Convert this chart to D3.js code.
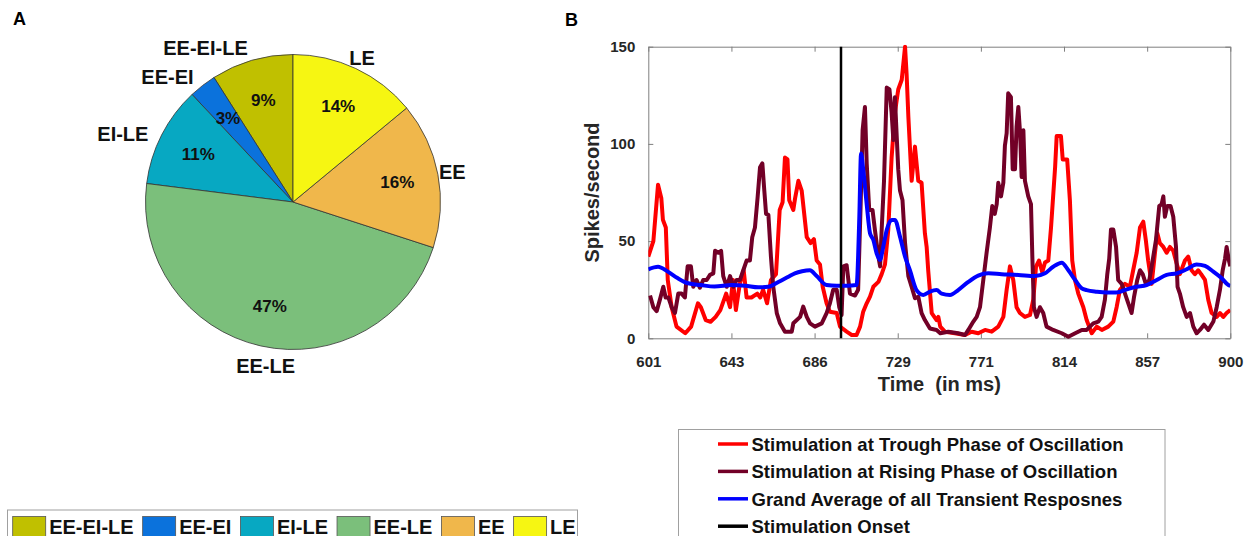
<!DOCTYPE html>
<html>
<head>
<meta charset="utf-8">
<script src="https://cdn.jsdelivr.net/npm/d3@7"></script>
<style>
  body { margin: 0; background: #fff; }
  svg text { font-family: "Liberation Sans", Arial, Helvetica, sans-serif; font-weight: bold; }
</style>
</head>
<body>
<div id="chart"></div>
<script>
// ---- panel A : response types ----
const pieLabels = ['EE-EI-LE', 'EE-EI', 'EI-LE', 'EE-LE', 'EE', 'LE'];
const pieValues = [9, 3, 11, 47, 16, 14];
const pieColors = ['#c0c000', '#0b72dc', '#07a8c2', '#7bbf7b', '#f0b74b', '#f6f612'];

// ---- panel B : firing rates, [time (ms), spikes/s] ----
const troughPhase = [[601,42],[603.6,50],[606,79],[607.7,72],[608.5,61],[610,57],[611,30],[613,16],[615.5,6],[620,2.6],[623,6],[626.5,18],[628,16],[630.5,9.4],[633,8.5],[635.6,11],[638,14.5],[641,23],[643,16],[644.5,30],[646,14.5],[648,28],[650,35],[651.5,21],[654,21],[657,23],[658.5,21],[660,25],[662,18],[664,30],[666.6,33],[668.5,66],[670,70],[671.2,93],[672.5,92],[673.4,71],[675.5,66],[676.4,72],[678.1,81],[679.8,76],[682.4,52],[684.4,49],[686.1,51],[687.5,40],[689.2,38],[690.6,26.5],[692.6,18],[694.3,13.7],[697.8,13],[699.5,6],[702.9,3.4],[705.5,1.7],[708,1.7],[709.8,6],[711.4,13.7],[713.2,18],[714.9,21.4],[716.6,26.5],[719.2,29],[720.9,33],[722.6,38],[724.3,56],[726,93],[727.7,116],[729.4,128],[731.2,133],[732.9,150],[733.7,136],[734.6,114],[736.3,81],[738,98.6],[739.7,81],[741.4,80],[743.1,54],[744,47],[744.8,35],[746.6,13],[749.1,9.4],[750,11],[751,6],[753.4,3.4],[758.5,2.6],[763.7,1.7],[767.1,3.4],[770.5,2.6],[774,4.3],[777.4,3.4],[780.8,6],[783.4,11],[785.1,25],[786.8,37],[788.5,30],[790.2,16],[791.9,13],[794.5,11],[797.1,12],[798.8,20],[800.2,37],[801.7,40],[803.4,34],[804.8,39],[806.5,40],[807.9,57],[810,88],[810.8,104],[813,104],[813.9,92],[816.2,92],[817.6,71],[818.8,40],[820.2,30],[821.9,23],[824.5,16],[826.2,9.4],[828.8,2.6],[831.4,6],[834,4.3],[837.3,6],[839.9,8.6],[841.6,16],[843.3,25],[845.9,28],[848.4,26.5],[850.1,35],[851.9,44],[853.6,57],[855.3,60],[856.6,50.5],[857.8,40],[859.6,28],[861.3,44],[862.5,54],[863.8,49],[865.6,47],[867.3,44],[869,47],[870.7,45],[872.4,38.6],[874.1,33],[876.7,40],[878.4,42],[880.1,35],[881.8,33],[883.5,35],[885,33],[887,30],[888.7,19.7],[890.4,13],[893,11],[894.7,13],[896.4,11],[898.1,13],[900,14.6]];

const risingPhase = [[601.9,22],[603.6,16],[605.3,14],[607,20],[608.7,26.5],[609.9,21],[611.3,21],[613,16],[614.7,13],[616.4,23],[618.1,23],[619.8,21],[621.2,37],[622.9,37],[624.1,26.5],[625.8,30],[627.5,26],[629.2,30],[631,30],[632.7,32.6],[634.4,33.4],[635.3,45],[637,44],[638.4,45],[639.5,32],[641.3,26.5],[643,32],[644.7,26.5],[646.4,30],[648.1,30],[649.8,35],[651.5,40],[653.2,40],[654.4,52],[655.8,57],[657.2,73],[658.4,88],[659.6,90],[660.6,76],[661.5,64],[662.7,63.5],[664,42],[665.2,26.5],[667,13],[668.7,7.7],[671.2,3.4],[674.7,3.4],[675.5,7.7],[679,11],[680.6,16.3],[682.4,11],[684.1,7.7],[686.6,6],[690.1,7.7],[692.6,13],[694.3,18],[696,25],[697.8,25],[699.1,16],[700.3,12],[701.2,37],[702.9,37.6],[704.6,23],[707.2,22],[708.8,25],[710.1,69],[711.1,107],[712.3,119],[713.2,90],[714.5,66],[716.2,66],[717.4,56],[719.2,42],[720.1,37],[720.9,56],[722.1,81],[723.5,129],[724.9,128],[726,116],[726.9,102],[727.7,124],[729.4,87],[730.3,76],[731.6,71],[732.9,49],[734.6,32],[736.3,26.5],[738,20.6],[739.7,21.4],[741.4,13],[743.1,9.4],[745.7,5],[749.1,4.3],[751,2.6],[755.1,3.4],[760.2,2.6],[763.7,1.7],[765.4,4.3],[768,8.6],[769.7,11],[771.4,16],[773.1,30],[774.8,44],[776.5,57],[777.7,68],[779,64],[780,69],[780.8,80],[782.2,73],[783.4,80],[784.2,99],[785.1,105.5],[785.9,126],[787.3,124],[788.2,87],[789.4,87],[790.2,109],[791.1,119],[792,105.5],[792.8,83],[793.7,107],[794.5,81],[796.2,73],[797.6,69],[798.3,42],[799.1,16],[800.5,11],[802.2,16],[803.9,13],[805.6,6],[809,4.3],[813.4,2.6],[816.8,0.8],[820.3,2.6],[823.7,4.3],[826.2,4.3],[829.6,7.7],[832.2,8.6],[833.9,11],[835.6,20],[836.8,33],[837.8,41],[838.7,56],[839.9,56],[841.3,47],[842.4,30],[844.2,28],[845.9,23],[847.6,18],[849.3,13],[850.5,21],[852.2,30],[853.6,35],[855,33],[856.6,28],[858.4,30],[860.1,40],[861.8,50.5],[863.5,68],[864.7,69],[865.6,73],[866.4,62.5],[867.6,68],[869.3,68],[870.7,62.5],[872.1,47],[872.9,26.5],[874.1,23],[875.8,16],[877.6,11],[879.3,13],[881,6],[882.7,2.6],[884.4,4.3],[886.5,7],[888.7,4.3],[891.3,8.6],[893,16],[894.7,25],[896.1,35],[897.3,41],[898.1,47],[899.3,40],[900,37]];

const grandAverage = [[601,35.5],[606,36.8],[611,34.3],[616,31],[621.5,28.3],[628,27.4],[635,26.6],[644,27.4],[651,27],[657.5,26.2],[662.7,26.5],[667.8,29],[673,31.7],[676.3,33.4],[680,34.5],[684,35],[687.5,32],[692.6,27.4],[697.8,27],[703,27],[708,27.4],[709.4,62],[710.3,95],[711.4,87],[713.2,69],[714.9,54],[716.6,50.6],[718.3,43.7],[720,40.3],[721.7,47],[723.5,55.7],[726,60.9],[727.7,60.9],[730.3,52.3],[732.9,42],[735.4,35],[738.8,24.8],[742.3,22.3],[745.7,24],[749.1,24.8],[751.7,23],[756,22.3],[760.2,24.8],[765.4,29],[770.5,32.2],[775.6,33.4],[782.5,33],[791.1,32.6],[799.7,32],[804.8,33.4],[809,36.8],[813.4,38.9],[816.8,35],[820.3,30],[823.7,25.7],[826.2,24.8],[831.4,24],[836.5,23.6],[841.6,23.6],[846.8,25.2],[851.9,26.5],[857,27.4],[862.2,30],[867.3,32.6],[872.4,33.4],[877.6,35.5],[882.7,38],[887,37.2],[891.3,34.3],[895.6,30.9],[899,27.4],[900,27]];

const stimOnset = 700;
const xTickValues = [601, 643.71, 686.43, 729.14, 771.86, 814.57, 857.29, 900];
const yTickValues = [0, 50, 100, 150];

const seriesNames = ['Stimulation at Trough Phase of Oscillation',
                     'Stimulation at Rising Phase of Oscillation',
                     'Grand Average of all Transient Resposnes',
                     'Stimulation Onset'];
const seriesColors = ['#ff0000', '#720027', '#0000ff', '#000000'];

const W = 1247, H = 536;
const svg = d3.select('#chart').append('svg')
    .attr('width', W)
    .attr('height', H);

svg.append('rect').attr('width', W).attr('height', H).attr('fill', '#fff');

// panel letters
svg.append('text').attr('x', 13).attr('y', 25).attr('font-size', 18).text('A');
svg.append('text').attr('x', 565).attr('y', 26).attr('font-size', 18).text('B');

// ===== Pie =====
const pieCfg = {cx: 293, cy: 202, r: 147.5};
const pieG = svg.append('g').attr('transform', `translate(${pieCfg.cx},${pieCfg.cy})`);

// counter-clockwise from 12 o'clock, like MATLAB
const pie = d3.pie().sort(null).startAngle(0).endAngle(-2 * Math.PI);
const arcs = pie(pieValues);
const arc = d3.arc().innerRadius(0).outerRadius(pieCfg.r);

pieG.selectAll('path.slice')
  .data(arcs)
  .enter().append('path')
    .attr('class', 'slice')
    .attr('d', arc)
    .attr('fill', (d, i) => pieColors[i])
    .attr('stroke', '#333')
    .attr('stroke-width', 0.8);

// percentage text inside
const inArc = d3.arc().innerRadius(pieCfg.r * 0.72).outerRadius(pieCfg.r * 0.72);
pieG.selectAll('text.pct')
  .data(arcs)
  .enter().append('text')
    .attr('class', 'pct')
    .attr('x', d => inArc.centroid(d)[0])
    .attr('y', d => inArc.centroid(d)[1] + 6)
    .attr('text-anchor', 'middle')
    .attr('font-size', 17)
    .attr('fill', '#111')
    .text(d => d.data + '%');

// outside labels
const outR = pieCfg.r * 1.1;
pieG.selectAll('text.lbl')
  .data(arcs)
  .enter().append('text')
    .attr('class', 'lbl')
    .each(function(d, i) {
      const a = (d.startAngle + d.endAngle) / 2;
      const sx = Math.sin(a), cy = Math.cos(a);
      const x = outR * sx, y = -outR * cy;
      let anchor = 'middle';
      let dy = y > 0 ? 13 : 7;
      if (x < -0.25 * outR) anchor = 'end';
      if (cy > 0.3) dy += 6 * Math.abs(sx);
      d3.select(this)
        .attr('x', x + (y > 0 && anchor === 'middle' ? 8 : 0))
        .attr('y', y + dy)
        .attr('text-anchor', anchor);
    })
    .attr('font-size', 20)
    .attr('fill', '#111')
    .text((d, i) => pieLabels[i]);

// pie legend
const pl = svg.append('g').attr('class', 'pie-legend');
pl.append('rect')
    .attr('x', 7.5).attr('y', 510)
    .attr('width', 570).attr('height', 40)
    .attr('fill', '#fff').attr('stroke', '#a0a0a0').attr('stroke-width', 1);
let lx = 12.7;
pieLabels.forEach((lab, i) => {
  pl.append('rect')
      .attr('x', lx).attr('y', 516.5)
      .attr('width', 33).attr('height', 22)
      .attr('fill', pieColors[i])
      .attr('stroke', '#555').attr('stroke-width', 0.8);
  const t = pl.append('text')
      .attr('x', lx + 36.5).attr('y', 533.5)
      .attr('font-size', 20)
      .attr('fill', '#111')
      .text(lab);
  lx += 36.5 + t.node().getComputedTextLength() + 9;
});

// ===== Line chart =====
const box = {left: 648.3, right: 1230.3, top: 46.7, bottom: 338.3};
const x = d3.scaleLinear().domain([601, 900]).range([box.left, box.right]);
const y = d3.scaleLinear().domain([0, 150]).range([box.bottom, box.top]);

const plot = svg.append('g');
const axisColor = '#7f7f7f';

function styleAxis(g) {
  g.select('.domain').attr('stroke', axisColor).attr('stroke-width', 1);
  g.selectAll('.tick line').attr('stroke', axisColor);
  g.selectAll('.tick text')
      .attr('font-size', 15)
      .attr('font-family', '"Liberation Sans", Arial, sans-serif')
      .attr('font-weight', 'bold')
      .attr('fill', '#262626');
}

plot.append('g')
    .attr('transform', `translate(0,${box.bottom})`)
    .call(d3.axisBottom(x).tickValues(xTickValues).tickSize(-5).tickPadding(18)
      .tickFormat(d => Math.floor(d)).tickSizeOuter(0))
    .call(styleAxis);
plot.append('g')
    .attr('transform', `translate(0,${box.top})`)
    .call(d3.axisTop(x).tickValues(xTickValues).tickSize(-5).tickFormat('').tickSizeOuter(0))
    .call(styleAxis);
plot.append('g')
    .attr('transform', `translate(${box.left},0)`)
    .call(d3.axisLeft(y).tickValues(yTickValues).tickSize(-5).tickPadding(13).tickSizeOuter(0))
    .call(styleAxis);
plot.append('g')
    .attr('transform', `translate(${box.right},0)`)
    .call(d3.axisRight(y).tickValues(yTickValues).tickSize(-5).tickFormat('').tickSizeOuter(0))
    .call(styleAxis);

svg.append('defs').append('clipPath').attr('id', 'plotclip')
  .append('rect')
    .attr('x', box.left).attr('y', box.top - 2)
    .attr('width', box.right - box.left).attr('height', box.bottom - box.top + 4);

const line = d3.line().x(d => x(d[0])).y(d => y(d[1]));
const smooth = d3.line().x(d => x(d[0])).y(d => y(d[1])).curve(d3.curveMonotoneX);

const lines = plot.append('g').attr('clip-path', 'url(#plotclip)');
lines.append('path').datum(troughPhase)
    .attr('d', line).attr('fill', 'none')
    .attr('stroke', seriesColors[0]).attr('stroke-width', 4).attr('stroke-linejoin', 'round');
lines.append('path').datum(risingPhase)
    .attr('d', line).attr('fill', 'none')
    .attr('stroke', seriesColors[1]).attr('stroke-width', 4).attr('stroke-linejoin', 'round');
lines.append('path').datum(grandAverage)
    .attr('d', smooth).attr('fill', 'none')
    .attr('stroke', seriesColors[2]).attr('stroke-width', 4).attr('stroke-linejoin', 'round');
lines.append('line')
    .attr('x1', x(stimOnset)).attr('x2', x(stimOnset))
    .attr('y1', y(150)).attr('y2', y(0))
    .attr('stroke', seriesColors[3]).attr('stroke-width', 2.5);

// axis titles
svg.append('text')
    .attr('x', (box.left + box.right) / 2).attr('y', 391)
    .attr('text-anchor', 'middle').attr('font-size', 20).attr('fill', '#262626')
    .attr('xml:space', 'preserve')
    .text('Time  (in ms)');
svg.append('text')
    .attr('transform', `translate(599,${(box.top + box.bottom) / 2}) rotate(-90)`)
    .attr('text-anchor', 'middle').attr('font-size', 20).attr('fill', '#262626')
    .text('Spikes/second');

// line legend
const ll = svg.append('g').attr('class', 'line-legend');
ll.append('rect')
    .attr('x', 678.5).attr('y', 429.5)
    .attr('width', 486.5).attr('height', 120)
    .attr('fill', '#fff').attr('stroke', '#a0a0a0').attr('stroke-width', 1);
seriesNames.forEach((name, i) => {
  const ry = 444 + i * 27.4;
  ll.append('line')
      .attr('x1', 718).attr('x2', 748).attr('y1', ry).attr('y2', ry)
      .attr('stroke', seriesColors[i]).attr('stroke-width', 3.5);
  ll.append('text')
      .attr('x', 751.5).attr('y', ry + 6.7)
      .attr('font-size', 18.5).attr('fill', '#111')
      .text(name);
});
</script>
</body>
</html>
